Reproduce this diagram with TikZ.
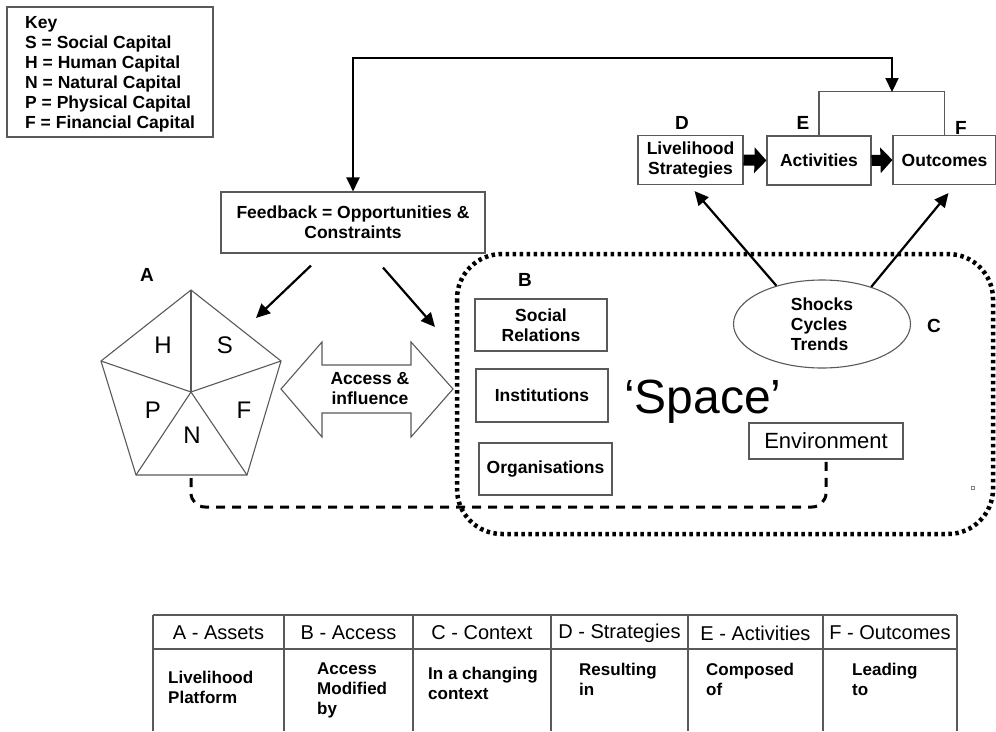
\documentclass[tikz,border=0pt]{standalone}
\usepackage{fontspec}
\setmainfont{Liberation Sans}
\usetikzlibrary{arrows.meta,shapes.geometric,calc}

\tikzset{
  box/.style={draw=black!65, line width=1.1pt, align=center, inner sep=0pt,
    font=\bfseries\fontsize{17.5}{20}\selectfont},
  tag/.style={font=\bfseries\fontsize{19}{22}\selectfont},
  letter/.style={font=\fontsize{24}{28}\selectfont},
  arr/.style={line width=2.2pt, -{Triangle[length=14pt,width=13pt]}},
  fat/.style={line width=11pt, -{Triangle[length=12pt,width=25pt]}},
  thin/.style={draw=black!65, line width=1.1pt},
  dashline/.style={line width=3pt, dash pattern=on 9pt off 7pt},
  dotline/.style={line width=4.5pt, dash pattern=on 3.5pt off 3.5pt},
  cell/.style={anchor=north west, align=left, inner sep=0pt,
    font=\bfseries\fontsize{17}{20}\selectfont},
  head/.style={font=\fontsize{20}{24}\selectfont}
}

\begin{document}
\begin{tikzpicture}[x=1pt,y=-1pt]
\useasboundingbox (0,0) rectangle (996,731);

% key
\draw[thin] (7,7) rectangle (213,137);
\node[cell, font=\bfseries\fontsize{17.5}{20}\selectfont] (key) at (25,16)
  {Key\\S = Social Capital\\H = Human Capital\\N = Natural Capital\\P = Physical Capital\\F = Financial Capital};

% strategies -> activities -> outcomes
\node[box, minimum width=105, minimum height=49] (strat) at (690.5,160) {Livelihood\\Strategies};
\node[box, minimum width=104, minimum height=49] (act) at (819,160.5) {Activities};
\node[box, minimum width=103, minimum height=49] (outc) at (944.5,160) {Outcomes};
\draw[fat] (strat.east) -- (act.west);
\draw[fat] (act.east) -- (outc.west);
\node[tag] (D) at (682,123) {D};
\node[tag] (E) at (803,123) {E};
\node[tag] (F) at (961,128) {F};
\draw[thin] (act.north) -- ++(0,-44) -| (outc.north);
\coordinate (brk) at (892,92);
\coordinate (loop) at (892,58);

% feedback
\node[box, minimum width=264, minimum height=61] (fb) at (353,222.5) {Feedback = Opportunities \&\\Constraints};
\draw[line width=2.2pt, {Triangle[length=14pt,width=13pt]}-{Triangle[length=14pt,width=13pt]}]
  (fb.north) |- (loop) -- (brk);
\coordinate (pa) at (256,318);
\coordinate (sa) at (435,327);
\draw[arr] ($(fb.south)+(-42,12)$) -- (pa);
\draw[arr] ($(fb.south)+(30,14)$) -- (sa);

% assets pentagon
\node[tag] (A) at (147,275) {A};
\coordinate (pt) at (191,290); \coordinate (pr) at (281,361); \coordinate (pbr) at (247,475);
\coordinate (pbl) at (136,475); \coordinate (pl) at (101,361); \coordinate (pc) at (191,392);
\draw[thin] (pt)--(pr)--(pbr)--(pbl)--(pl)--cycle;
\foreach \p in {pt,pr,pbr,pbl,pl} \draw[thin] (pc)--(\p);
\node[letter] (H) at (163,345) {H};
\node[letter] (S) at (225,345) {S};
\node[letter] (P) at (153,410) {P};
\node[letter] (Fc) at (244,410) {F};
\node[letter] (N) at (192,435) {N};

% access & influence
\draw[thin] (281,389) -- (322,342) -- (322,365) -- (411,365) -- (411,342) -- (453,389)
  -- (411,437) -- (411,413) -- (322,413) -- (322,437) -- cycle;
\node[box, draw=none] (acc) at (370,389) {Access \&\\influence};

% space
\draw[dotline, rounded corners=45] (457,254) rectangle (993,534);
\node[tag] (B) at (525,280) {B};
\node[box, minimum width=132, minimum height=52] (soc) at (541,325) {Social\\Relations};
\node[box, minimum width=132, minimum height=53] (inst) at (542,395.5) {Institutions};
\node[box, minimum width=133, minimum height=52] (org) at (545.5,469) {Organisations};
\node[anchor=base west, inner sep=0pt, font=\fontsize{48}{54}\selectfont] (space) at (624,413) {‘Space’};
\node[draw=black!65, line width=1.1pt, ellipse, minimum width=177, minimum height=88, inner sep=0pt,
  align=left, font=\bfseries\fontsize{17.5}{20}\selectfont] (shock) at (822,324) {Shocks\\Cycles\\Trends};
\node[tag] (C) at (934,326) {C};
\draw[arr] (shock.140) -- ($(strat.south)+(4,6)$);
\draw[arr] (shock.37) -- ($(outc.south)+(4,8)$);
\node[box, font=\fontsize{22}{26}\selectfont, minimum width=154, minimum height=36] (env) at (826,441) {Environment};
\draw[dashline, rounded corners=14] (191,478) -- (191,507) -- (env.south |- 0,507) -- (env.south);
\draw[black!50, line width=0.6pt] (971.5,486.5) rectangle (974.5,489.5);

% table
\foreach \x in {153,284,413,551,688,823,957} \draw[thin, line width=1.4pt] (\x,615) -- (\x,731);
\draw[thin, line width=1.4pt] (153,615) -- (957,615);
\draw[thin, line width=1.4pt] (153,649) -- (957,649);
\foreach \t/\x [count=\i] in {A - Assets/218.5, B - Access/348.5, C - Context/482,
  D - Strategies/619.5, E - Activities/755.5, F - Outcomes/890}
  \node[head] (h\i) at (\x,633) {\t};
\node[cell] (c1) at (168,671) {Livelihood\\Platform};
\node[cell] (c2) at (317,663) {Access\\Modified\\by};
\node[cell] (c3) at (428,667) {In a changing\\context};
\node[cell] (c4) at (579,663) {Resulting\\in};
\node[cell] (c5) at (706,663) {Composed\\of};
\node[cell] (c6) at (852,663) {Leading\\to};
\end{tikzpicture}
\end{document}
